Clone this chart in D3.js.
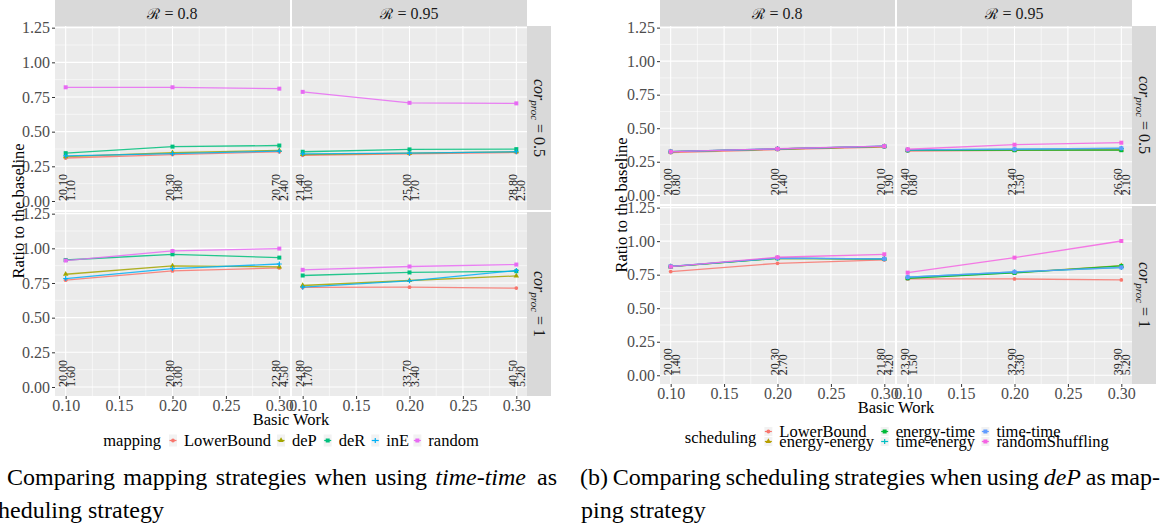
<!DOCTYPE html>
<html><head><meta charset="utf-8">
<script src="https://cdn.jsdelivr.net/npm/d3@7"></script>
</head><body style="margin:0;background:#fff">
<svg id="c" width="1161" height="523" font-family="Liberation Serif"></svg>
<script>
// ---------- data ----------
const xValues = [0.1, 0.2, 0.3];
const rLabels = ["0.8", "0.95"];
const corLabels = ["0.5", "1"];
const xTicks = [0.10, 0.15, 0.20, 0.25, 0.30];
const xMinorTicks = [0.125, 0.175, 0.225, 0.275];
const yTicks = [0, 0.25, 0.5, 0.75, 1.0, 1.25];
const yMinorTicks = [0.125, 0.375, 0.625, 0.875, 1.125];

// panel order: [R=0.8,cor=0.5], [R=0.95,cor=0.5], [R=0.8,cor=1], [R=0.95,cor=1]
const mappingNames = ["LowerBound", "deP", "deR", "inE", "random"];
const mappingColors = ["#F8766D", "#A3A500", "#00BF7D", "#00B0F6", "#E76BF3"];
const mapLowerBound = [[0.31, 0.335, 0.355], [0.33, 0.34, 0.35], [0.77, 0.837, 0.859], [0.718, 0.72, 0.713]];
const mapDeP = [[0.32, 0.348, 0.365], [0.335, 0.345, 0.355], [0.813, 0.873, 0.866], [0.732, 0.768, 0.801]];
const mapDeR = [[0.345, 0.392, 0.4], [0.355, 0.372, 0.374], [0.916, 0.957, 0.933], [0.804, 0.826, 0.835]];
const mapInE = [[0.325, 0.342, 0.36], [0.34, 0.345, 0.355], [0.782, 0.854, 0.887], [0.72, 0.766, 0.84]];
const mapRandom = [[0.82, 0.82, 0.81], [0.787, 0.708, 0.704], [0.912, 0.981, 0.998], [0.845, 0.869, 0.883]];
const mapLabelTop = [["20.10", "20.30", "20.70"], ["21.40", "25.00", "28.80"], ["20.00", "20.80", "22.80"], ["24.80", "33.70", "40.50"]];
const mapLabelBottom = [["1.10", "1.80", "2.40"], ["1.00", "1.70", "2.50"], ["1.60", "3.00", "4.50"], ["1.70", "3.40", "5.20"]];

const schedNames = ["LowerBound", "energy-energy", "energy-time", "time-energy", "time-time", "randomShuffling"];
const schedColors = ["#F8766D", "#B79F00", "#00BA38", "#00BFC4", "#619CFF", "#F564E3"];
const schLowerBound = [[0.318, 0.34, 0.36], [0.33, 0.335, 0.338], [0.773, 0.835, 0.86], [0.718, 0.718, 0.711]];
const schEnergyEnergy = [[0.325, 0.345, 0.365], [0.335, 0.337, 0.338], [0.81, 0.872, 0.867], [0.725, 0.765, 0.817]];
const schEnergyTime = [[0.325, 0.345, 0.365], [0.335, 0.336, 0.336], [0.81, 0.872, 0.867], [0.723, 0.763, 0.815]];
const schTimeEnergy = [[0.325, 0.346, 0.366], [0.338, 0.343, 0.35], [0.812, 0.873, 0.868], [0.731, 0.77, 0.803]];
const schTimeTime = [[0.326, 0.346, 0.366], [0.339, 0.344, 0.351], [0.812, 0.874, 0.868], [0.732, 0.771, 0.804]];
const schRandomShuffling = [[0.325, 0.347, 0.366], [0.343, 0.377, 0.392], [0.81, 0.88, 0.902], [0.765, 0.877, 1.001]];
const schLabelTop = [["20.00", "20.00", "20.10"], ["20.40", "23.40", "26.60"], ["20.00", "20.30", "21.80"], ["23.90", "32.90", "39.90"]];
const schLabelBottom = [["0.80", "1.40", "1.90"], ["0.80", "1.50", "2.10"], ["1.40", "2.70", "4.20"], ["1.50", "3.30", "5.20"]];

const captionA1 = ["(a)", "Comparing", "mapping", "strategies", "when", "using", "time-time", "as"];
const captionA2 = "scheduling strategy";
const captionB1 = ["(b)", "Comparing", "scheduling", "strategies", "when", "using", "deP", "as", "map-"];
const captionB2 = "ping strategy";

// ---------- drawing ----------
const FONT = "Liberation Serif";
const svg = d3.select("#c");
svg.append("rect").attr("width", 1161).attr("height", 523).attr("fill", "#fff");

function txt(parent) {
  return parent.append("text").attr("font-family", FONT).style("font-family", FONT);
}

function drawPoint(g, shape, cx, cy, color) {
  if (shape === "circle") g.append("circle").attr("cx", cx).attr("cy", cy).attr("r", 1.9).attr("fill", color);
  else if (shape === "triangle") g.append("path").attr("d", d3.symbol(d3.symbolTriangle, 13)()).attr("transform", `translate(${cx},${cy})`).attr("fill", color);
  else if (shape === "square") g.append("rect").attr("x", cx - 2).attr("y", cy - 2).attr("width", 4).attr("height", 4).attr("fill", color);
  else if (shape === "plus") g.append("path").attr("d", `M${cx - 2.5},${cy}H${cx + 2.5}M${cx},${cy - 2.5}V${cy + 2.5}`).attr("stroke", color).attr("stroke-width", 1.2);
}

// approximate Times widths (units per 1000 em)
const TW = {"a":444,"b":500,"c":444,"d":500,"e":444,"f":333,"g":500,"h":500,"i":278,"j":278,"k":500,"l":278,"m":778,"n":500,"o":500,"p":500,"q":500,"r":333,"s":389,"t":278,"u":500,"v":500,"w":722,"x":500,"y":500,"z":444,"(":333,")":333,"-":333,"C":667,"P":611,"L":611,"B":667,"R":667,"S":556," ":250};
function measure(s, size) {
  let w = 0;
  for (const ch of s) w += (TW[ch] || 500);
  return w * size / 1000;
}

function drawChart(cfg) {
  const g = svg.append("g");
  const colX = c => cfg.left + c * (cfg.panelW + cfg.gap);
  const rowY = r => cfg.top + r * (cfg.rowH + cfg.rowGap);
  const bottom = rowY(1) + cfg.rowH;

  for (let r = 0; r < 2; r++) for (let c = 0; c < 2; c++) {
    const p = r * 2 + c;
    const x = d3.scaleLinear().domain([0.09, 0.31]).range([colX(c), colX(c) + cfg.panelW]);
    const y = d3.scaleLinear().domain([-0.065, 1.262]).range([rowY(r) + cfg.rowH, rowY(r)]);
    const pg = g.append("g");
    pg.append("rect").attr("x", colX(c)).attr("y", rowY(r)).attr("width", cfg.panelW).attr("height", cfg.rowH).attr("fill", "#ebebeb");
    const [y0, y1] = y.range();
    pg.selectAll(null).data(xMinorTicks).join("line").attr("x1", d => x(d)).attr("x2", d => x(d)).attr("y1", y1).attr("y2", y0).attr("stroke", "#fff").attr("stroke-width", 0.55);
    pg.selectAll(null).data(yMinorTicks).join("line").attr("y1", d => y(d)).attr("y2", d => y(d)).attr("x1", colX(c)).attr("x2", colX(c) + cfg.panelW).attr("stroke", "#fff").attr("stroke-width", 0.55);
    pg.selectAll(null).data(xTicks).join("line").attr("x1", d => x(d)).attr("x2", d => x(d)).attr("y1", y1).attr("y2", y0).attr("stroke", "#fff").attr("stroke-width", 1.1);
    pg.selectAll(null).data(yTicks).join("line").attr("y1", d => y(d)).attr("y2", d => y(d)).attr("x1", colX(c)).attr("x2", colX(c) + cfg.panelW).attr("stroke", "#fff").attr("stroke-width", 1.1);

    // annotations
    xValues.forEach((xv, i) => {
      const at = pg.append("g").attr("transform", `translate(${x(xv)},${y(0)}) rotate(-90)`).attr("font-size", 12).attr("fill", "#1a1a1a");
      txt(at).attr("x", 0).attr("y", 1).text(cfg.labelTop[p][i]);
      txt(at).attr("x", 0).attr("y", 9).text(cfg.labelBottom[p][i]);
    });

    // series
    const line = d3.line().x((d, i) => x(xValues[i])).y(d => y(d));
    cfg.series.forEach((s, k) => {
      pg.append("path").attr("d", line(s[p])).attr("fill", "none").attr("stroke", cfg.colors[k]).attr("stroke-width", 1.3).attr("stroke-opacity", 0.85);
      s[p].forEach((v, i) => drawPoint(pg, cfg.shapes[k], x(xValues[i]), y(v), cfg.colors[k]));
    });

    if (c === 0) {
      const ga = g.append("g").attr("transform", `translate(${colX(0)},0)`)
        .call(d3.axisLeft(y).tickValues(yTicks).tickSize(3).tickPadding(2).tickFormat(d3.format(".2f")));
      ga.select(".domain").remove();
      ga.attr("font-size", 16).attr("font-family", FONT);
      ga.selectAll("line").attr("stroke", "#333");
      ga.selectAll("text").attr("fill", "#4d4d4d");
    }
    if (r === 1) {
      const gx = g.append("g").attr("transform", `translate(0,${bottom})`)
        .call(d3.axisBottom(x).tickValues(xTicks).tickSize(3).tickPadding(0).tickFormat(d3.format(".2f")));
      gx.select(".domain").remove();
      gx.attr("font-size", 16).attr("font-family", FONT);
      gx.selectAll("line").attr("stroke", "#333");
      gx.selectAll("text").attr("fill", "#4d4d4d").attr("dy", "0.75em");
    }
  }

  // column strips
  for (let c = 0; c < 2; c++) {
    g.append("rect").attr("x", colX(c)).attr("y", 0).attr("width", cfg.panelW).attr("height", cfg.top).attr("fill", "#d9d9d9");
    const t = txt(g).attr("x", colX(c) + cfg.panelW / 2).attr("y", 19).attr("text-anchor", "middle").attr("font-size", 16).attr("fill", "#1a1a1a");
    t.append("tspan").attr("font-family", "DejaVu Serif").style("font-family", "DejaVu Serif").attr("font-size", 15).text("\u211B");
    t.append("tspan").text(" = " + rLabels[c]);
  }
  // row strips
  const sx = colX(1) + cfg.panelW;
  for (let r = 0; r < 2; r++) {
    g.append("rect").attr("x", sx).attr("y", rowY(r)).attr("width", cfg.stripW).attr("height", cfg.rowH).attr("fill", "#d9d9d9");
    const t = txt(g).attr("transform", `translate(${sx + cfg.stripW / 2 - 5},${rowY(r) + cfg.rowH / 2}) rotate(90)`)
      .attr("text-anchor", "middle").attr("font-size", 16).attr("fill", "#1a1a1a");
    t.append("tspan").attr("font-style", "italic").text("cor");
    t.append("tspan").attr("font-style", "italic").attr("font-size", 11).attr("dy", 3.5).text("proc");
    t.append("tspan").attr("dy", -3.5).text(" = " + corLabels[r]);
  }

  // axis titles
  txt(g).attr("transform", `translate(${cfg.yTitleX},${(cfg.top + bottom) / 2}) rotate(-90)`)
    .attr("text-anchor", "middle").attr("font-size", 16.5).attr("fill", "#000").text("Ratio to the baseline");
  txt(g).attr("x", (cfg.left + sx) / 2).attr("y", bottom + 29).attr("text-anchor", "middle")
    .attr("font-size", 16.5).attr("fill", "#000").text("Basic Work");

  // legend
  const nrow = cfg.legendRows.length;
  const ncol = Math.ceil(cfg.names.length / nrow);
  const tw = measure(cfg.legendTitle, 16.5);
  const colW = [];
  for (let cc = 0; cc < ncol; cc++) {
    let m = 0;
    for (let rr = 0; rr < nrow; rr++) { const i = cc * nrow + rr; if (i < cfg.names.length) m = Math.max(m, measure(cfg.names[i], 16.5)); }
    colW.push(8 + 7 + m + 6);
  }
  const total = tw + 8 + d3.sum(colW) - 6;
  let lx = cfg.legendCx - total / 2;
  txt(g).attr("x", lx).attr("y", cfg.legendTitleY).attr("font-size", 16.5).attr("fill", "#000").text(cfg.legendTitle);
  lx += tw + 8;
  for (let cc = 0; cc < ncol; cc++) {
    for (let rr = 0; rr < nrow; rr++) {
      const i = cc * nrow + rr;
      if (i >= cfg.names.length) continue;
      const base = cfg.legendRows[rr];
      const kh = cfg.keyH;
      const ky = base - 5.5 - kh / 2;
      g.append("rect").attr("x", lx).attr("y", ky).attr("width", 8).attr("height", kh).attr("fill", "#f2f2f2");
      g.append("line").attr("x1", lx + 0.5).attr("x2", lx + 7.5).attr("y1", ky + kh / 2).attr("y2", ky + kh / 2).attr("stroke", cfg.colors[i]).attr("stroke-width", 1.2);
      drawPoint(g, cfg.shapes[i], lx + 4, ky + kh / 2, cfg.colors[i]);
      txt(g).attr("x", lx + 15).attr("y", base).attr("font-size", 16.5).attr("fill", "#000").text(cfg.names[i]);
    }
    lx += colW[cc];
  }
}

function justify(words, italics, anchorIdx, xStart, xEnd, yBase) {
  const ws = words.map(w => measure(w, 24));
  const n = words.length;
  const gap = (xEnd - xStart - d3.sum(ws.slice(anchorIdx))) / (n - 1 - anchorIdx);
  const pos = [];
  pos[anchorIdx] = xStart;
  for (let i = anchorIdx + 1; i < n; i++) pos[i] = pos[i - 1] + ws[i - 1] + gap;
  for (let i = anchorIdx - 1; i >= 0; i--) pos[i] = pos[i + 1] - gap - ws[i];
  words.forEach((w, i) => {
    txt(svg).attr("x", pos[i]).attr("y", yBase).attr("font-size", 24).attr("fill", "#000")
      .attr("font-style", italics.includes(i) ? "italic" : "normal").text(w);
  });
}

drawChart({
  left: 55, panelW: 235, gap: 2, top: 26, rowH: 184, rowGap: 2, stripW: 24,
  series: [mapLowerBound, mapDeP, mapDeR, mapInE, mapRandom],
  names: mappingNames, colors: mappingColors,
  shapes: ["circle", "triangle", "square", "plus", "square"],
  labelTop: mapLabelTop, labelBottom: mapLabelBottom,
  yTitleX: 23.5, legendTitle: "mapping", legendCx: 291, legendTitleY: 446, legendRows: [446], keyH: 12
});
drawChart({
  left: 660, panelW: 235, gap: 2, top: 26, rowH: 178, rowGap: 2, stripW: 24,
  series: [schLowerBound, schEnergyEnergy, schEnergyTime, schTimeEnergy, schTimeTime, schRandomShuffling],
  names: schedNames, colors: schedColors,
  shapes: ["circle", "triangle", "square", "plus", "square", "square"],
  labelTop: schLabelTop, labelBottom: schLabelBottom,
  yTitleX: 626.5, legendTitle: "scheduling", legendCx: 897, legendTitleY: 443, legendRows: [437, 447], keyH: 9
});

justify(captionA1, [6], 1, 7, 557, 485);
txt(svg).attr("x", -22).attr("y", 518).attr("font-size", 24).attr("fill", "#000").text(captionA2);
justify(captionB1, [6], 0, 580, 1160, 485);
txt(svg).attr("x", 581).attr("y", 518).attr("font-size", 24).attr("fill", "#000").text(captionB2);
</script>
</body></html>
